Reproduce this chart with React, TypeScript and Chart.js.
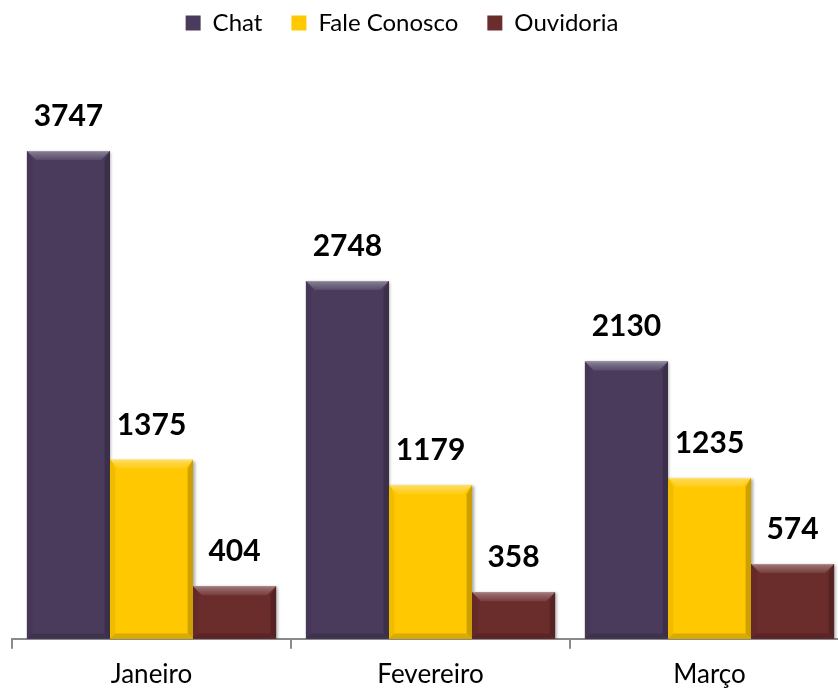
import { useEffect, useRef } from 'react';
import { Chart, registerables } from 'chart.js';

Chart.register(...registerables);

const categories = ['Janeiro', 'Fevereiro', 'Março'];
const seriesNames = ['Chat', 'Fale Conosco', 'Ouvidoria'];
const chatValues = [3747, 2748, 2130];
const faleValues = [1375, 1179, 1235];
const ouvidoriaValues = [404, 358, 574];
const seriesColors = ['#4a3b5c', '#ffc800', '#6b2c2c'];
const yMin = 0;
const yMax = 4000;

const FONT = 'Lato';
const LEGEND_HEIGHT = 136;

function mix(hex: string, target: number, amt: number): string {
  const n = parseInt(hex.slice(1), 16);
  const r = (n >> 16) & 255, g = (n >> 8) & 255, b = n & 255;
  const m = (c: number) => Math.round(c + (target - c) * amt);
  return `rgb(${m(r)},${m(g)},${m(b)})`;
}

const legendHeightPlugin = {
  id: 'legendHeight',
  beforeUpdate(chart: any) {
    const legend = chart.legend;
    if (legend && !legend.__patched) {
      const fit = legend.fit;
      legend.fit = function () {
        fit.call(this);
        this.height = LEGEND_HEIGHT;
      };
      legend.__patched = true;
    }
  },
};

const bevelPlugin = {
  id: 'bevel',
  beforeDatasetsDraw(chart: any) {
    const ctx = chart.ctx;
    ctx.save();
    ctx.shadowColor = 'rgba(0,0,0,0.35)';
    ctx.shadowBlur = 3;
    ctx.shadowOffsetX = 1.5;
    ctx.shadowOffsetY = 1;
  },
  afterDatasetsDraw(chart: any) {
    const ctx = chart.ctx;
    ctx.restore();
    chart.data.datasets.forEach((ds: any, di: number) => {
      const meta = chart.getDatasetMeta(di);
      const color = seriesColors[di];
      meta.data.forEach((el: any, i: number) => {
        const { x, y, base, width } = el.getProps(['x', 'y', 'base', 'width'], true);
        const l = x - width / 2, r = x + width / 2, t = y, b = base;
        const bv = 9;
        ctx.save();
        const g = ctx.createLinearGradient(0, t, 0, t + bv);
        g.addColorStop(0, mix(color, 255, 0.35));
        g.addColorStop(1, mix(color, 255, 0.08));
        ctx.fillStyle = g;
        ctx.beginPath();
        ctx.moveTo(l, t);
        ctx.lineTo(r, t);
        ctx.lineTo(r - bv, t + bv);
        ctx.lineTo(l + bv, t + bv);
        ctx.closePath();
        ctx.fill();
        ctx.fillStyle = mix(color, 0, 0.06);
        ctx.beginPath();
        ctx.moveTo(l, t);
        ctx.lineTo(l + bv * 0.6, t + bv);
        ctx.lineTo(l + bv * 0.6, b - bv * 0.6);
        ctx.lineTo(l, b);
        ctx.closePath();
        ctx.fill();
        ctx.fillStyle = mix(color, 0, 0.2);
        ctx.beginPath();
        ctx.moveTo(r, t);
        ctx.lineTo(r - bv * 0.6, t + bv);
        ctx.lineTo(r - bv * 0.6, b - bv * 0.6);
        ctx.lineTo(r, b);
        ctx.closePath();
        ctx.fill();
        ctx.fillStyle = mix(color, 0, 0.15);
        ctx.beginPath();
        ctx.moveTo(l, b);
        ctx.lineTo(l + bv * 0.6, b - bv * 0.6);
        ctx.lineTo(r - bv * 0.6, b - bv * 0.6);
        ctx.lineTo(r, b);
        ctx.closePath();
        ctx.fill();
        ctx.strokeStyle = mix(color, 255, 0.45);
        ctx.lineWidth = 1;
        ctx.beginPath();
        ctx.moveTo(l + 1, t + 0.5);
        ctx.lineTo(r - 1, t + 0.5);
        ctx.stroke();
        ctx.restore();

        ctx.save();
        ctx.font = `bold 30px ${FONT}`;
        ctx.fillStyle = '#000000';
        ctx.textAlign = 'center';
        ctx.textBaseline = 'alphabetic';
        ctx.fillText(String(ds.data[i]), x, t - 25);
        ctx.restore();
      });
    });
  },
};

export default function App() {
  const canvasRef = useRef<HTMLCanvasElement | null>(null);

  useEffect(() => {
    if (!canvasRef.current) return;
    const values = [chatValues, faleValues, ouvidoriaValues];
    const chart = new Chart(canvasRef.current, {
      type: 'bar',
      data: {
        labels: categories,
        datasets: seriesNames.map((name, i) => ({
          label: name,
          data: values[i],
          backgroundColor: seriesColors[i],
          borderWidth: 0,
          categoryPercentage: 0.893,
          barPercentage: 1,
        })),
      },
      options: {
        animation: false,
        responsive: true,
        maintainAspectRatio: false,
        layout: { padding: { top: 0, right: 0, bottom: 2, left: 0 } },
        plugins: {
          legend: {
            display: true,
            position: 'top',
            labels: {
              boxWidth: 15,
              boxHeight: 15,
              padding: 29,
              color: '#000000',
              font: { family: FONT, size: 24 },
            },
          },
          tooltip: { enabled: false },
        },
        scales: {
          x: {
            grid: {
              display: true,
              drawOnChartArea: false,
              drawTicks: true,
              offset: true,
              tickLength: 10,
              color: '#8a8a8a',
              lineWidth: 2,
            },
            border: { display: true, color: '#8a8a8a', width: 2 },
            ticks: {
              color: '#000000',
              font: { family: FONT, size: 26 },
              padding: 10,
            },
          },
          y: {
            min: yMin,
            max: yMax,
            display: true,
            grid: { display: false },
            border: { display: false },
            ticks: { display: false },
            afterFit: (scale: any) => {
              scale.width = 57;
            },
          },
        },
      },
      plugins: [legendHeightPlugin, bevelPlugin],
    });
    return () => chart.destroy();
  }, []);

  return (
    <div style={{ position: 'absolute', left: 0, top: 0, width: 838, height: 691, overflow: 'hidden', background: '#ffffff' }}>
      <div style={{ position: 'absolute', left: -45, top: -18, width: 894, height: 720 }}>
        <canvas ref={canvasRef} />
      </div>
    </div>
  );
}
